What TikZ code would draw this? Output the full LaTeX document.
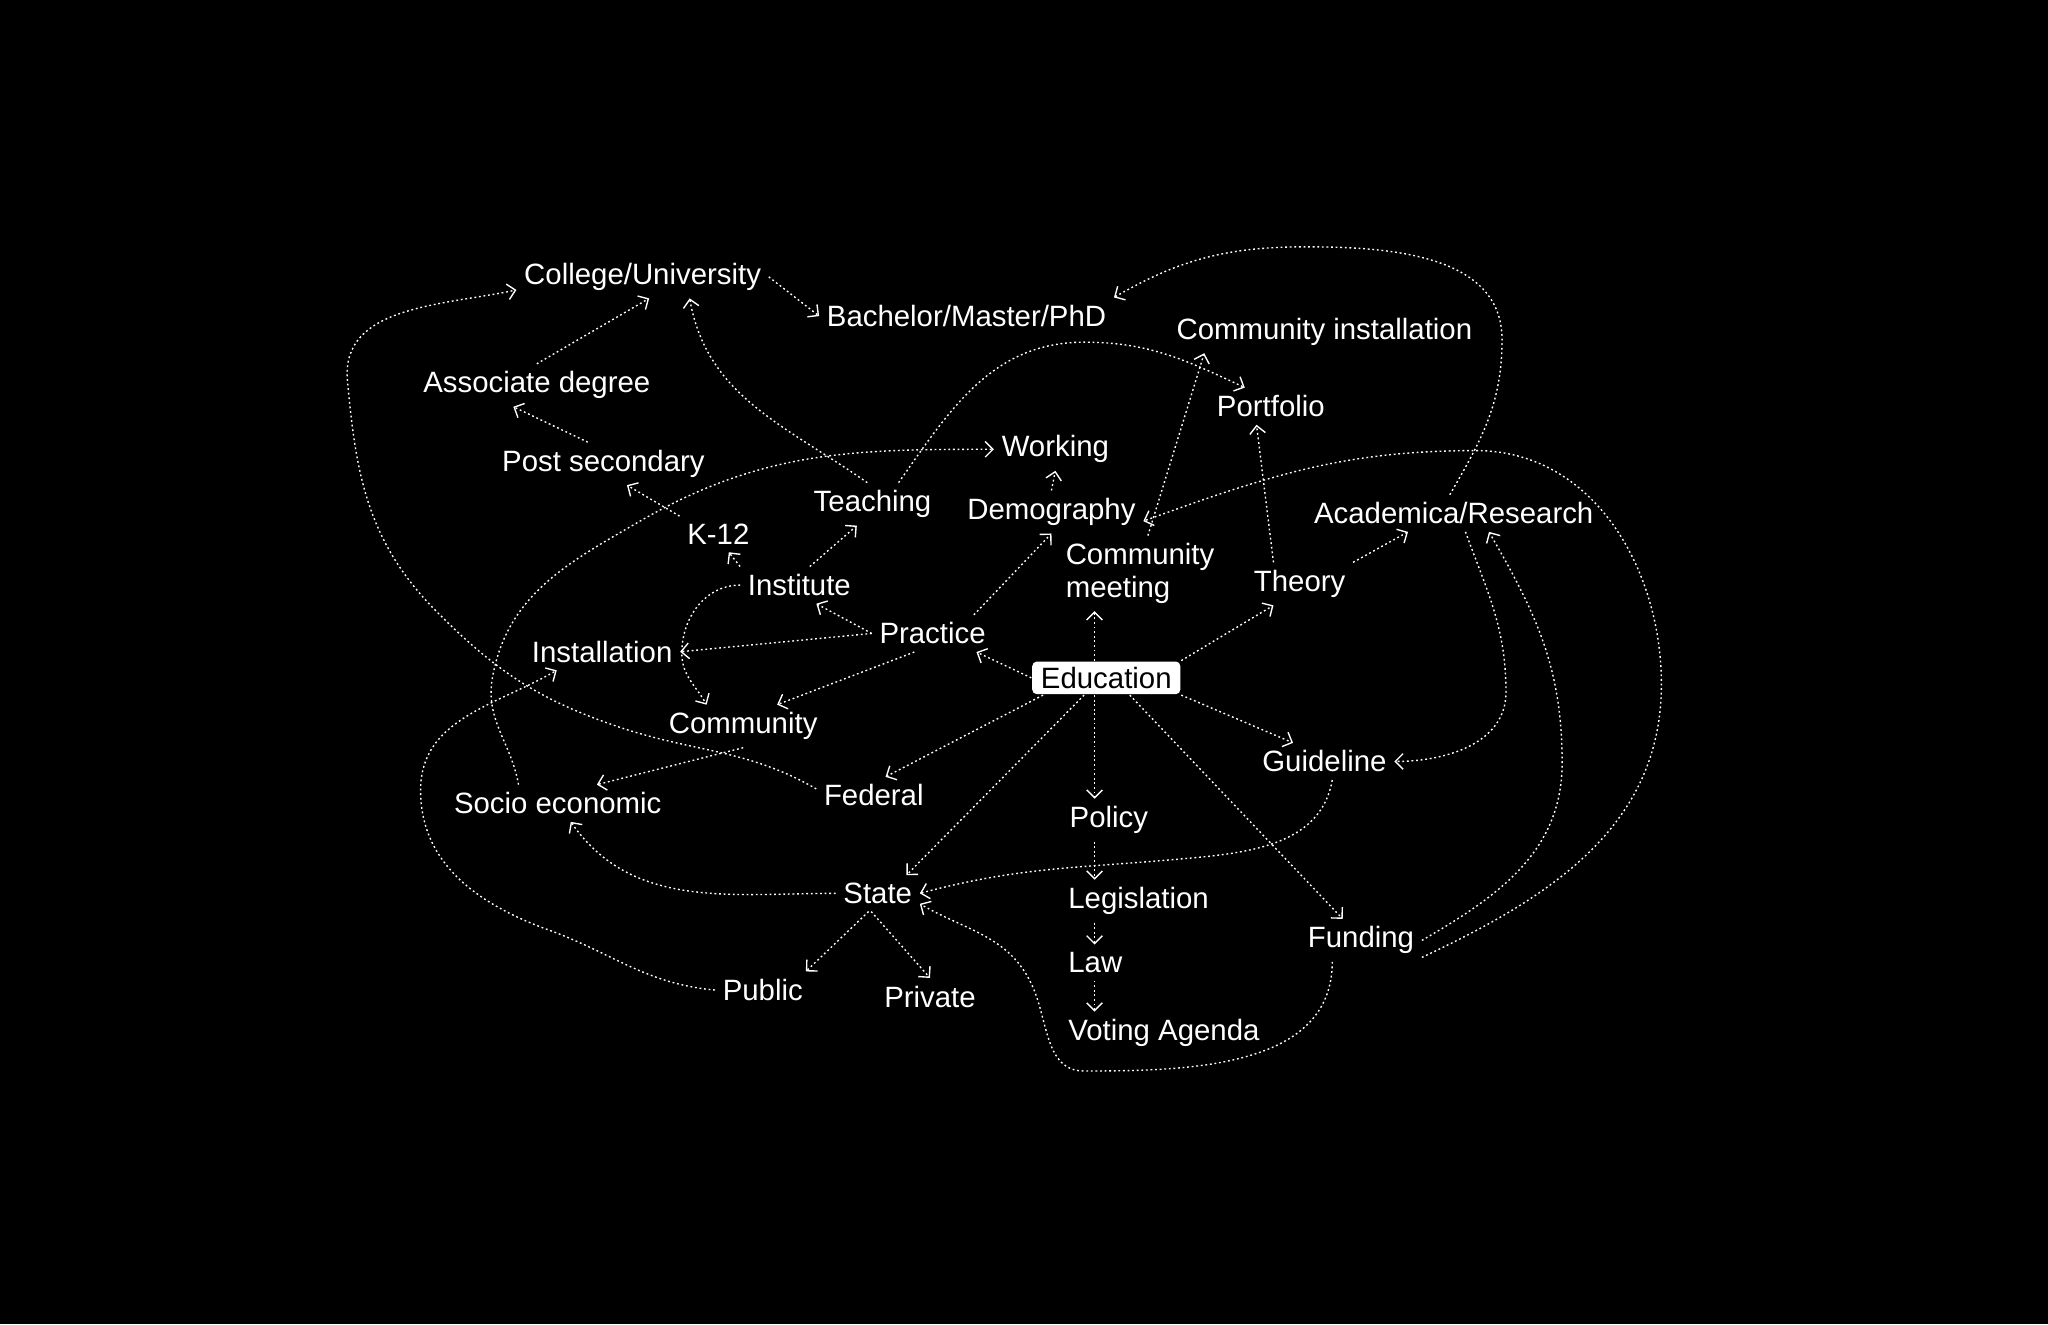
\documentclass[tikz,border=0pt]{standalone}
\usepackage{fontspec}
\setmainfont{Liberation Sans}
\usetikzlibrary{arrows.meta}

\begin{document}
\begin{tikzpicture}[
    lbl/.style={text=white, font=\fontsize{6.4}{7.1}\selectfont, inner sep=1.5pt},
    keybox/.style={lbl, fill=white, text=black, rounded corners=1pt, inner xsep=1.9pt, inner ysep=0pt, minimum height=0.25cm},
    link/.style={white, line width=0.3pt, dash pattern=on 0.4pt off 0.6pt, -{Straight Barb[length=0.6mm, width=1.2mm]}},
]

% Background
\fill[black] (0,0) rectangle (15.68,10.14);
\useasboundingbox (0,0) rectangle (15.68,10.14);

% Topics
\node[lbl] (college) at (4.92, 8.02) {College/University};
\node[lbl] (bachelor) at (7.40, 7.72) {Bachelor/Master/PhD};
\node[lbl] (commins) at (10.14, 7.60) {Community installation};
\node[lbl] (associate) at (4.11, 7.19) {Associate degree};
\node[lbl] (portfolio) at (9.73, 7.03) {Portfolio};
\node[lbl] (postsec) at (4.62, 6.59) {Post secondary};
\node[lbl] (working) at (8.08, 6.70) {Working};
\node[lbl] (teaching) at (6.68, 6.28) {Teaching};
\node[lbl] (demography) at (8.05, 6.22) {Demography};
\node[lbl] (academica) at (11.13, 6.21) {Academica/Research};
\node[lbl] (k12) at (5.50, 6.05) {K-12};
\node[lbl, anchor=west, align=left] (commeet) at (8.10, 5.75) {Community\\meeting};
\node[lbl] (theory) at (9.95, 5.67) {Theory};
\node[lbl] (institute) at (6.12, 5.66) {Institute};
\node[lbl] (practice) at (7.14, 5.29) {Practice};
\node[lbl] (installation) at (4.61, 5.15) {Installation};
\node[keybox] (education) at (8.47, 4.95) {Education};
\node[lbl] (community) at (5.69, 4.58) {Community};
\node[lbl] (guideline) at (10.14, 4.31) {Guideline};
\node[lbl] (socio) at (4.27, 3.99) {Socio economic};
\node[lbl] (federal) at (6.69, 4.05) {Federal};
\node[lbl, anchor=west] (policy) at (8.13, 3.86) {Policy};
\node[lbl] (state) at (6.72, 3.30) {State};
\node[lbl, anchor=west] (legislation) at (8.12, 3.24) {Legislation};
\node[lbl] (funding) at (10.42, 2.94) {Funding};
\node[lbl, anchor=west] (law) at (8.12, 2.77) {Law};
\node[lbl] (public) at (5.84, 2.56) {Public};
\node[lbl] (private) at (7.12, 2.51) {Private};
\node[lbl, anchor=west] (voting) at (8.12, 2.23) {Voting Agenda};

\coordinate (spine) at (8.38, 0);

% Straight links
\draw[link] (associate.north) -- ([xshift=0.05cm]college.south);
\draw[link] ([xshift=-0.12cm]postsec.north) -- ([xshift=-0.18cm]associate.south);
\draw[link] (k12.north west) -- ([xshift=0.18cm]postsec.south);
\draw[link] (institute.north west) -- ([xshift=0.08cm]k12.south);
\draw[link] ([xshift=0.08cm]institute.north) -- ([xshift=-0.12cm]teaching.south);
\draw[link] (practice.west) -- ([xshift=0.13cm]institute.south);
\draw[link] (practice.west) -- (installation.east);
\draw[link] ([xshift=-0.14cm]practice.south) -- ([xshift=0.26cm]community.north);
\draw[link] (education.west) -- ([xshift=-0.13cm]practice.south east);
\draw[link] ([xshift=-0.15cm]practice.north east) -- (demography.south);
\draw[link] (demography.north) -- (working.south);
\draw[link] (education.north -| spine) -- (commeet.south -| spine);
\draw[link] ([xshift=0.06cm]commeet.north) -- ([xshift=-0.92cm]commins.south);
\draw[link] (education.north east) -- ([xshift=-0.2cm]theory.south);
\draw[link] ([xshift=-0.2cm]theory.north) -- ([xshift=-0.11cm]portfolio.south);
\draw[link] (theory.north east) -- ([xshift=-0.35cm]academica.south);
\draw[link] (education.south east) -- ([xshift=-0.24cm]guideline.north);
\draw[link] ([xshift=0.18cm]education.south) -- ([xshift=-0.14cm]funding.north);
\draw[link] (education.south -| spine) -- (policy.north -| spine);
\draw[link] (policy.south -| spine) -- (legislation.north -| spine);
\draw[link] (legislation.south -| spine) -- (law.north -| spine);
\draw[link] (law.south -| spine) -- (voting.north -| spine);
\draw[link] ([xshift=0.09cm]education.south west) -- ([xshift=0.09cm]federal.north);
\draw[link] ([xshift=-0.17cm]education.south) -- ([xshift=0.22cm]state.north);
\draw[link] ([xshift=-0.07cm]state.south) -- ([xshift=0.33cm]public.north);
\draw[link] ([xshift=-0.05cm]state.south) -- (private.north);
\draw[link] (community.south) -- ([xshift=0.3cm]socio.north);
\draw[link] (college.east) -- (bachelor.west);

% Curved links
\draw[link] ([xshift=-0.04cm]teaching.north) to[out=145, in=-80] ([xshift=0.36cm]college.south);
\draw[link] ([xshift=0.2cm]teaching.north) to[out=55, in=180] (8.30, 7.52) to[out=0, in=155] ([xshift=-0.2cm]portfolio.north);
\draw[link] ([xshift=-0.3cm]socio.north) to[out=100, in=-100] (3.77, 4.95) to[out=80, in=-150] (4.90, 6.15) to[out=30, in=180] (working.west);
\draw[link] (institute.west) to[out=180, in=90] (5.22, 5.14) to[out=-90, in=120] ([xshift=-0.28cm]community.north);
\draw[link] (public.west) to[out=175, in=-20] (4.20, 3.02) to[out=160, in=-90] (3.22, 4.09) to[out=90, in=210] ([xshift=0.25cm]installation.south west);
\draw[link] ([yshift=0.05cm]federal.west) to[out=150, in=-19] (4.72, 4.58) to[out=161, in=-45] (3.35, 5.45) to[out=135, in=-85] (2.66, 7.23) to[out=95, in=192] ([yshift=-0.1cm]college.west);
\draw[link] (state.west) to[out=180, in=-55] ([xshift=0.1cm]socio.south);
\draw[link] ([xshift=0.06cm]guideline.south) to[out=-100, in=5] (9.00, 3.56) to[out=185, in=15] (state.east);
\draw[link] ([xshift=-0.22cm]funding.south) to[out=-90, in=0] (8.30, 1.94) to[out=180, in=-65] (7.90, 2.60) to[out=115, in=-30] ([yshift=-0.08cm]state.east);
\draw[link] ([xshift=0.09cm]academica.south) to[out=-70, in=90] (11.53, 4.84) to[out=-90, in=0] (guideline.east);
\draw[link] (funding.east) to[out=30, in=-90] (11.96, 4.30) to[out=90, in=-60] ([xshift=0.27cm]academica.south);
\draw[link] ([yshift=-0.13cm]funding.east) to[out=25, in=-90] (12.72, 4.90) to[out=90, in=0] (11.30, 6.69) to[out=180, in=20] ([yshift=-0.07cm]demography.east);
\draw[link] ([xshift=-0.03cm]academica.north) to[out=60, in=-90] (11.50, 7.54) to[out=90, in=0] (10.00, 8.25) to[out=180, in=30] (bachelor.north east);

\end{tikzpicture}
\end{document}
